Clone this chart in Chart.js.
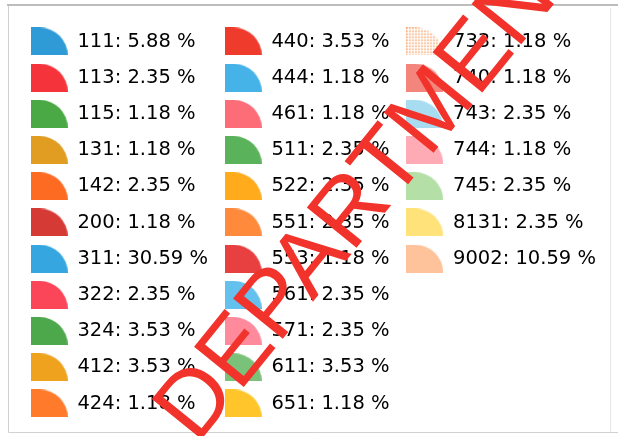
<!DOCTYPE html>
<html>
<head>
<meta charset="utf-8">
<script src="https://cdn.jsdelivr.net/npm/chart.js@4"></script>
<style>
  html, body { margin: 0; padding: 0; background: #fff; overflow: hidden; }
  /* the reference is a crop of a wider pie chart: only the legend is in view */
  #wrap { position: relative; width: 1240px; height: 436px; }
</style>
</head>
<body>
<div id="wrap"><canvas id="chartPie"></canvas></div>
<script>
// data
const categories = ['111', '113', '115', '131', '142', '200', '311', '322', '324', '412', '424',
  '440', '444', '461', '511', '522', '551', '553', '561', '571', '611', '651',
  '733', '740', '743', '744', '745', '8131', '9002']
const counts = [5, 2, 1, 1, 2, 1, 26, 2, 3, 3, 1,
  3, 1, 1, 2, 2, 2, 1, 2, 2, 3, 1,
  1, 1, 2, 1, 2, 2, 9]

// styles
const colors = ['#2e9bd6', '#f4333a', '#4aa845', '#e09d22', '#fd6a21', '#d63a34', '#36a6e0', '#fb4559', '#4ca84a', '#eea21e', '#ff7a2a',
  '#ef3b2c', '#45b3e8', '#fd6d78', '#5ab25a', '#ffab1c', '#ff8a3c', '#e84040', '#64c0ec', '#ff8a9c', '#7ac27a', '#ffc52a',
  'dots', '#f4857c', '#a8dcf0', '#ffabb6', '#b4e0a8', '#ffe27a', '#ffc39c']

const total = counts.reduce((a, b) => a + b, 0)
const pct = (v) => (v / total * 100).toFixed(2)

// dotted fill used by 733
const dotPattern = () => {
  const t = document.createElement('canvas')
  t.width = 3; t.height = 3
  const g = t.getContext('2d')
  g.fillStyle = '#fff'
  g.fillRect(0, 0, 3, 3)
  g.fillStyle = '#f59a5c'
  g.fillRect(0, 0, 1.5, 1.5)
  return g.createPattern(t, 'repeat')
}
const fills = colors.map((c) => c === 'dots' ? dotPattern() : c)

// quarter-pie legend icon
const makeIcon = (fill) => {
  const c = document.createElement('canvas')
  c.width = 37; c.height = 28
  const g = c.getContext('2d')
  g.fillStyle = fill
  g.beginPath()
  g.moveTo(0, 28)
  g.lineTo(0, 0)
  g.lineTo(9, 0)
  g.ellipse(9, 28, 28, 28, 0, -Math.PI / 2, 0)
  g.closePath()
  g.fill()
  return c
}

const framePlugin = {
  id: 'frame',
  beforeDraw(chart) {
    const ctx = chart.ctx
    ctx.save()
    ctx.fillStyle = '#fff'
    ctx.fillRect(0, 0, chart.width, chart.height)
    ctx.lineWidth = 1
    ctx.strokeStyle = '#d2d2d2'
    ctx.beginPath()
    ctx.moveTo(8.5, 5); ctx.lineTo(8.5, 432.5); ctx.lineTo(618, 432.5)
    ctx.stroke()
    ctx.strokeStyle = '#e6e6e6'
    ctx.beginPath()
    ctx.moveTo(610.5, 8); ctx.lineTo(610.5, 432)
    ctx.stroke()
    ctx.lineWidth = 2
    ctx.strokeStyle = '#bdbdbd'
    ctx.beginPath()
    ctx.moveTo(7, 5); ctx.lineTo(618, 5)
    ctx.stroke()
    ctx.restore()
  }
}

const stampPlugin = {
  id: 'stamp',
  afterDraw(chart) {
    const ctx = chart.ctx
    ctx.save()
    ctx.translate(198, 403)
    ctx.rotate(-51 * Math.PI / 180)
    ctx.font = '93px "Liberation Sans"'
    ctx.fillStyle = '#f2332b'
    ctx.textBaseline = 'middle'
    ctx.textAlign = 'left'
    ctx.fillText('DEPARTMENT', -33.6, 0)
    ctx.restore()
  }
}

new Chart(document.getElementById('chartPie'), {
  type: 'pie',
  data: {
    labels: categories,
    datasets: [{
      data: counts,
      backgroundColor: fills,
      borderWidth: 0
    }]
  },
  plugins: [framePlugin, stampPlugin],
  options: {
    responsive: true,
    maintainAspectRatio: false,
    animation: false,
    layout: { padding: { left: 14, top: 15, right: 0, bottom: 0 } },
    plugins: {
      tooltip: { enabled: false },
      legend: {
        position: 'left',
        align: 'start',
        maxWidth: 700,
        labels: {
          usePointStyle: true,
          pointStyleWidth: 37,
          padding: 16.7,
          color: '#1a1a1a',
          font: { family: '"DejaVu Sans"', size: 19.5 },
          generateLabels: (chart) => categories.map((c, i) => ({
            text: `${c}: ${pct(counts[i])} %`,
            fillStyle: fills[i],
            strokeStyle: fills[i],
            lineWidth: 0,
            pointStyle: makeIcon(fills[i]),
            hidden: !chart.getDataVisibility(i),
            index: i
          }))
        }
      }
    }
  }
})
</script>
</body>
</html>
